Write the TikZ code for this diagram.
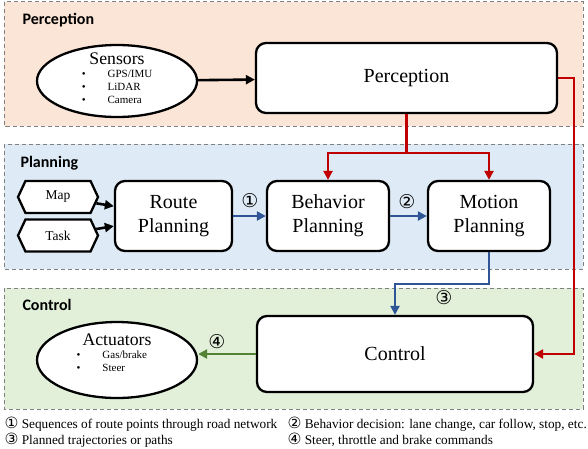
\documentclass[tikz,border=0pt]{standalone}
\usepackage{fontspec}
\setmainfont{Liberation Serif}
\newfontfamily\headfont{Carlito}
\newfontfamily\circfont{DejaVu Sans}
\usetikzlibrary{arrows.meta, shapes.geometric, shapes.symbols}
\definecolor{perfill}{HTML}{FBE5D6}
\definecolor{planfill}{HTML}{DEEBF7}
\definecolor{ctrlfill}{HTML}{E2F0D9}
\definecolor{redline}{HTML}{C00000}
\definecolor{blueline}{HTML}{2F5597}
\definecolor{greenline}{HTML}{548235}
\newcommand{\circnum}[1]{{\circfont\fontsize{15.5}{16}\selectfont #1}}

\begin{document}
\begin{tikzpicture}[x=1pt, y=-1pt,
  region/.style={draw=gray, dash pattern=on 4pt off 3pt, line width=0.8pt},
  head/.style={anchor=west, font=\headfont\bfseries\fontsize{16}{18}\selectfont},
  block/.style={draw, line width=2.3pt, rounded corners=10pt, fill=white,
    align=center, font=\fontsize{20}{24}\selectfont},
  oval/.style={ellipse, draw, line width=2.3pt, fill=white, minimum width=160,
    minimum height=72, inner sep=0pt},
  src/.style={signal, signal to=west and east, signal pointer angle=130, draw,
    line width=2.3pt, fill=white, minimum width=80, minimum height=32,
    inner sep=0pt, font=\fontsize{13.5}{16}\selectfont},
  flow/.style={line width=2.6pt, -{Triangle[length=9pt, width=9pt]}},
  num/.style={font=\circfont\fontsize{19}{20}\selectfont},
  note/.style={anchor=base west, font=\fontsize{13.3}{16}\selectfont}]
  \useasboundingbox (0,0) rectangle (588,448);
  % regions
  \fill[perfill] (4,1.5) rectangle (583,126);
  \draw[region] (4,1.5) rectangle (583,126);
  \fill[planfill] (4,144) rectangle (583,269);
  \draw[region] (4,144) rectangle (583,269);
  \fill[ctrlfill] (4,288) rectangle (583,409);
  \draw[region] (4,288) rectangle (583,409);
  \node[head] (hper) at (19,20) {Perception};
  \node[head] (hplan) at (17,163) {Planning};
  \node[head] (hctrl) at (19,305) {Control};
  % perception
  \node[oval] (sens) at (117,81) {};
  \node[font=\fontsize{11}{13}\selectfont] (sensT) at (117,80) {%
    \begin{tabular}{@{}l@{\hspace{22pt}}l@{}}
    \multicolumn{2}{c}{\fontsize{17.7}{19}\selectfont Sensors}\\
    \textbullet & GPS/IMU\\ \textbullet & LiDAR\\ \textbullet & Camera
    \end{tabular}};
  \node[block, minimum width=301, minimum height=70] (per) at (406.5,78) {Perception};
  % planning
  \node[src] (map) at (58,197) {Map};
  \node[src] (task) at (58,235.5) {Task};
  \node[block, minimum width=117, minimum height=70] (route) at (173.5,216) {Route\\Planning};
  \node[block, minimum width=122, minimum height=70] (behav) at (328,216) {Behavior\\Planning};
  \node[block, minimum width=122, minimum height=70] (motion) at (489,216) {Motion\\Planning};
  % control
  \node[block, minimum width=276, minimum height=76] (ctrl) at (395,354) {Control};
  \node[oval, minimum height=76] (act) at (117,360) {};
  \node[font=\fontsize{11}{13}\selectfont] (actT) at (117,355) {%
    \begin{tabular}{@{}l@{\hspace{22pt}}l@{}}
    \multicolumn{2}{c}{\fontsize{17.7}{19}\selectfont Actuators}\\
    \textbullet & Gas/brake\\ \textbullet & Steer
    \end{tabular}};

  \foreach \from/\to in {sens/per, map/route, task/route}
    \draw[flow] (\from) -- (\to);
  \coordinate (split) at (406.5,153);
  \draw[flow, redline] (per.south) -- (split) -| (behav.north);
  \draw[flow, redline] (split) -| (motion.north);
  \draw[flow, redline] (per.east) -- ++(16,0) |- (ctrl.east);
  \draw[flow, blueline] (route) -- (behav);
  \draw[flow, blueline] (behav) -- (motion);
  \draw[flow, blueline] (motion.south) -- ++(0,32) -| (ctrl.north);
  \draw[flow, greenline] (ctrl.west) -- (ctrl.west -| act.east);
  % numbers
  \node[num] (l1) at (250,201) {①};
  \node[num] (l2) at (407,202) {②};
  \node[num] (l3) at (444,298) {③};
  \node[num] (l4) at (217,342) {④};
  % legend
  \node[note] (n1) at (1,428) {\circnum{①} Sequences of route points through road network};
  \node[note] (n2) at (284,428) {\circnum{②} Behavior decision: lane change, car follow, stop, etc.};
  \node[note] (n3) at (1,444) {\circnum{③} Planned trajectories or paths};
  \node[note] (n4) at (284,444) {\circnum{④} Steer, throttle and brake commands};
\end{tikzpicture}
\end{document}
